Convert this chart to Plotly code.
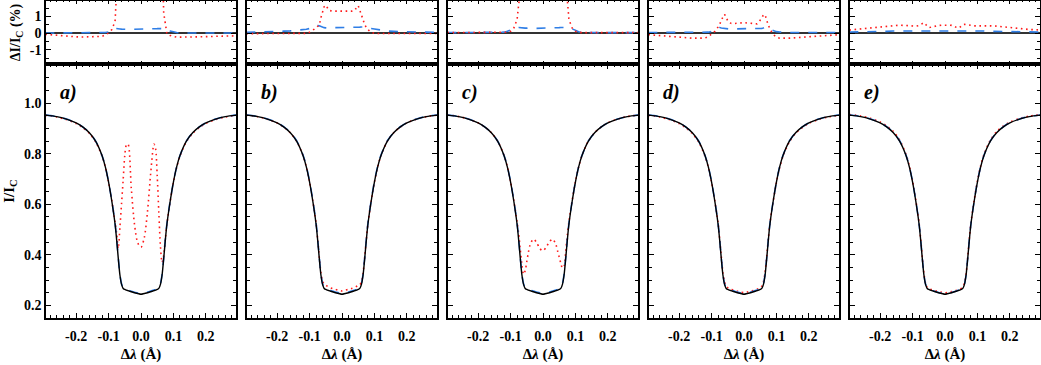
import numpy as np
import plotly.graph_objects as go

# ---------------- data ----------------
lam = [-0.295, -0.26, -0.23, -0.20, -0.18, -0.16, -0.14, -0.12, -0.11, -0.10, -0.09, -0.08,
       -0.075, -0.07, -0.065, -0.06, -0.055, -0.05, -0.045, -0.04, -0.03, -0.02, -0.01, 0.0,
       0.01, 0.02, 0.03, 0.04, 0.045, 0.05, 0.055, 0.06, 0.065, 0.07, 0.075, 0.08,
       0.09, 0.10, 0.11, 0.12, 0.14, 0.16, 0.18, 0.20, 0.23, 0.26, 0.295]

# reference profile I/I_C
I_ref = [0.953, 0.947, 0.937, 0.922, 0.906, 0.884, 0.850, 0.792, 0.748, 0.688, 0.612, 0.522,
         0.458, 0.385, 0.320, 0.283, 0.267, 0.263, 0.260, 0.258, 0.254, 0.250, 0.247, 0.244,
         0.247, 0.250, 0.254, 0.258, 0.260, 0.263, 0.267, 0.283, 0.320, 0.385, 0.458, 0.522,
         0.612, 0.688, 0.748, 0.792, 0.850, 0.884, 0.906, 0.922, 0.937, 0.947, 0.953]

# Delta I / I_C (%) -- red dotted series, panels a..e
dR_a = [-0.08, -0.15, -0.20, -0.23, -0.24, -0.24, -0.23, -0.20, -0.12, 0.0, 0.2, 0.7,
        2.5, 4.0, 19, 32, 43, 53, 57.5, 58, 41, 27, 20, 18.6,
        22, 32, 47, 58, 56, 45, 30, 15, 5, 1.2, 0.4, -0.05,
        -0.15, -0.22, -0.25, -0.25, -0.25, -0.24, -0.23, -0.22, -0.20, -0.18, -0.17]
dR_b = [-0.04, -0.04, -0.04, -0.04, -0.04, -0.04, -0.04, -0.04, -0.02, 0.05, 0.15, 0.3,
        0.4, 0.47, 0.92, 1.35, 1.58, 1.67, 1.55, 1.36, 1.31, 1.31, 1.31, 1.31,
        1.31, 1.31, 1.31, 1.36, 1.55, 1.64, 1.4, 1.05, 0.8, 0.49, 0.3, 0.2,
        0.05, -0.02, -0.03, -0.03, -0.03, -0.03, -0.03, -0.03, -0.03, -0.03, -0.03]
dR_c = [0.02, 0.02, 0.02, 0.02, 0.02, 0.02, 0.02, 0.02, 0.05, 0.1, 0.3, 0.8,
        2.5, 3.5, 4.0, 4.0, 7.0, 11, 15, 18, 20.8, 20, 17.8, 17.2,
        18.3, 20.2, 20.8, 18.2, 15.5, 12.8, 9.9, 6.5, 3.5, 3.0, 2.0, 0.8,
        0.3, 0.1, 0.05, 0.02, 0.02, 0.02, 0.02, 0.02, 0.02, 0.02, 0.02]
dR_d = [-0.10, -0.16, -0.20, -0.25, -0.29, -0.31, -0.31, -0.30, -0.22, -0.05, 0.1, 0.36,
        0.5, 0.78, 1.0, 1.12, 0.95, 0.72, 0.62, 0.58, 0.57, 0.6, 0.63, 0.62,
        0.6, 0.57, 0.54, 0.55, 0.62, 0.74, 0.92, 1.08, 1.1, 0.76, 0.48, 0.22,
        -0.08, -0.25, -0.31, -0.32, -0.31, -0.28, -0.25, -0.22, -0.18, -0.14, -0.10]
dR_e = [0.18, 0.25, 0.30, 0.36, 0.40, 0.45, 0.47, 0.45, 0.43, 0.42, 0.41, 0.45,
        0.52, 0.60, 0.62, 0.52, 0.40, 0.33, 0.34, 0.37, 0.42, 0.45, 0.47, 0.47,
        0.47, 0.46, 0.38, 0.30, 0.33, 0.42, 0.50, 0.52, 0.50, 0.48, 0.47, 0.45,
        0.43, 0.43, 0.44, 0.45, 0.43, 0.41, 0.37, 0.32, 0.25, 0.21, 0.18]

# Delta I / I_C (%) -- blue dashed series, panels a..e
dB_a = [0.0, 0.0, 0.0, 0.0, 0.0, 0.0, 0.0, 0.0, 0.03, 0.06, 0.2, 0.28,
        0.28, 0.26, 0.24, 0.23, 0.22, 0.22, 0.22, 0.22, 0.22, 0.22, 0.22, 0.22,
        0.23, 0.24, 0.25, 0.25, 0.26, 0.26, 0.27, 0.27, 0.27, 0.27, 0.26, 0.24,
        0.12, 0.06, 0.03, 0.0, 0.0, 0.0, 0.0, 0.0, 0.0, 0.0, 0.0]
dB_b = [0.04, 0.05, 0.07, 0.09, 0.11, 0.13, 0.15, 0.18, 0.22, 0.27, 0.35, 0.42,
        0.44, 0.43, 0.38, 0.34, 0.32, 0.31, 0.31, 0.31, 0.31, 0.31, 0.31, 0.31,
        0.31, 0.31, 0.31, 0.31, 0.32, 0.33, 0.35, 0.36, 0.37, 0.36, 0.34, 0.31,
        0.27, 0.24, 0.20, 0.17, 0.12, 0.10, 0.08, 0.07, 0.06, 0.05, 0.04]
dB_c = [0.02, 0.02, 0.02, 0.02, 0.02, 0.02, 0.02, 0.05, 0.1, 0.18, 0.27, 0.32,
        0.33, 0.31, 0.30, 0.30, 0.29, 0.29, 0.28, 0.28, 0.28, 0.28, 0.28, 0.28,
        0.28, 0.29, 0.29, 0.30, 0.31, 0.32, 0.33, 0.33, 0.34, 0.34, 0.33, 0.32,
        0.25, 0.15, 0.08, 0.04, 0.02, 0.02, 0.02, 0.02, 0.02, 0.02, 0.02]
dB_d = [0.03, 0.03, 0.03, 0.03, 0.03, 0.03, 0.03, 0.03, 0.05, 0.1, 0.15, 0.28,
        0.33, 0.30, 0.28, 0.26, 0.25, 0.25, 0.24, 0.24, 0.24, 0.24, 0.24, 0.24,
        0.25, 0.25, 0.25, 0.25, 0.26, 0.27, 0.28, 0.30, 0.33, 0.30, 0.26, 0.22,
        0.13, 0.08, 0.06, 0.04, 0.03, 0.03, 0.03, 0.03, 0.03, 0.03, 0.03]
dB_e = [0.06, 0.06, 0.08, 0.09, 0.10, 0.12, 0.12, 0.14, 0.15, 0.16, 0.16, 0.16,
        0.15, 0.14, 0.13, 0.12, 0.12, 0.12, 0.12, 0.12, 0.12, 0.12, 0.12, 0.12,
        0.12, 0.13, 0.13, 0.14, 0.14, 0.14, 0.14, 0.14, 0.14, 0.14, 0.13, 0.13,
        0.12, 0.12, 0.12, 0.12, 0.10, 0.09, 0.08, 0.07, 0.06, 0.06, 0.06]

panel_labels = ["a)", "b)", "c)", "d)", "e)"]
red_sets = [dR_a, dR_b, dR_c, dR_d, dR_e]
blue_sets = [dB_a, dB_b, dB_c, dB_d, dB_e]

x_tickvals = [-0.2, -0.1, 0.0, 0.1, 0.2]
x_ticktext = ["-0.2", "-0.1", "0.0", "0.1", "0.2"]
top_tickvals = [-1, 0, 1]
top_ticktext = ["-1", "0", "1"]
bot_tickvals = [0.2, 0.4, 0.6, 0.8, 1.0]
bot_ticktext = ["0.2", "0.4", "0.6", "0.8", "1.0"]

# ---------------- layout geometry ----------------
W, H = 1041, 365
lefts = [46, 247, 448, 649, 850]
pw = 190
top_pix = (1, 64)
bot_pix = (64, 318)

FONT = "Liberation Serif"
RED = "#ff1a1a"
BLUE = "#2f7ee6"

fig = go.Figure()
ref = np.array(I_ref)

layout = dict(
    width=W, height=H,
    margin=dict(l=0, r=0, t=0, b=0, autoexpand=False),
    paper_bgcolor="white", plot_bgcolor="white",
    showlegend=False,
    font=dict(family=FONT, size=13, color="black", weight="bold"),
    annotations=[],
)

def axis_common(tl=5):
    return dict(showline=True, linecolor="black", linewidth=1.5, mirror="ticks",
                ticks="inside", ticklen=tl, tickwidth=1, tickcolor="black",
                showgrid=False, zeroline=False, automargin=False,
                tickfont=dict(family=FONT, size=14, color="black", weight="bold"))

def minor(dt, tl=3):
    return dict(ticks="inside", ticklen=tl, tickwidth=1, tickcolor="black",
                dtick=dt, tick0=0, showgrid=False)

for i in range(5):
    kt = i + 1
    kb = i + 6
    dom_x = [lefts[i] / W, (lefts[i] + pw) / W]
    # top row
    xa = axis_common(3)
    xa.update(domain=dom_x, anchor=f"y{kt}", range=[-0.293, 0.293],
              tickmode="array", tickvals=x_tickvals, ticktext=x_ticktext,
              showticklabels=False, minor=minor(0.02, 1))
    ya = axis_common()
    ya.update(domain=[1 - top_pix[1] / H, 1 - top_pix[0] / H], anchor=f"x{kt}",
              range=[-1.86, 1.92], tickmode="array", tickvals=top_tickvals,
              ticktext=top_ticktext, showticklabels=(i == 0),
              zeroline=True, zerolinecolor="#333333", zerolinewidth=1.5,
              minor=minor(0.5))
    if i == 0:
        ya["title"] = dict(text="ΔI/I<sub>C</sub> (%)", standoff=6,
                           font=dict(family=FONT, size=14, color="black", weight="bold"))
    layout[f"xaxis{kt}"] = xa
    layout[f"yaxis{kt}"] = ya

    # bottom row
    xb = axis_common()
    xb.update(domain=dom_x, anchor=f"y{kb}", range=[-0.293, 0.293],
              tickmode="array", tickvals=x_tickvals, ticktext=x_ticktext,
              ticklabelstandoff=4, minor=minor(0.02),
              title=dict(text="Δ<i>λ</i> (Å)", standoff=6,
                         font=dict(family=FONT, size=15, color="black", weight="bold")))
    yb = axis_common()
    yb.update(domain=[1 - bot_pix[1] / H, 1 - bot_pix[0] / H], anchor=f"x{kb}",
              range=[0.15, 1.155], tickmode="array", tickvals=bot_tickvals,
              ticktext=bot_ticktext, showticklabels=(i == 0), minor=minor(0.05))
    if i == 0:
        yb["title"] = dict(text="I/I<sub>C</sub>", standoff=6,
                           font=dict(family=FONT, size=15, color="black", weight="bold"))
    layout[f"xaxis{kb}"] = xb
    layout[f"yaxis{kb}"] = yb

    dR = np.array(red_sets[i])
    dB = np.array(blue_sets[i])

    # top row: differences
    fig.add_trace(go.Scatter(x=lam, y=dB, mode="lines", xaxis=f"x{kt}", yaxis=f"y{kt}",
                             line=dict(color=BLUE, width=1.6, dash="9px,9px")))
    fig.add_trace(go.Scatter(x=lam, y=dR, mode="lines", xaxis=f"x{kt}", yaxis=f"y{kt}",
                             line=dict(color=RED, width=1.6, dash="1.6px,3.6px")))
    # bottom row: profiles
    fig.add_trace(go.Scatter(x=lam, y=ref + dR / 100.0, mode="lines", xaxis=f"x{kb}",
                             yaxis=f"y{kb}", line=dict(color=RED, width=1.6,
                                                       dash="1.6px,3.6px",
                                                       shape="spline", smoothing=0.8)))
    fig.add_trace(go.Scatter(x=lam, y=ref + dB / 100.0, mode="lines", xaxis=f"x{kb}",
                             yaxis=f"y{kb}", line=dict(color=BLUE, width=1.6, dash="9px,9px",
                                                       shape="spline", smoothing=0.8)))
    fig.add_trace(go.Scatter(x=lam, y=ref, mode="lines", xaxis=f"x{kb}", yaxis=f"y{kb}",
                             line=dict(color="black", width=1.4, shape="spline",
                                       smoothing=0.8)))

    layout["annotations"].append(dict(
        text=f"<i>{panel_labels[i]}</i>", x=(lefts[i] + 12) / W, y=1 - 93 / H,
        xref="paper", yref="paper", xanchor="left", yanchor="middle", showarrow=False,
        font=dict(family=FONT, size=20, color="black", weight="bold")))

fig.update_layout(**layout)
fig.write_html("out.html", config={"displayModeBar": False},
               post_script="document.body.style.margin='0';document.body.style.overflow='hidden';")
